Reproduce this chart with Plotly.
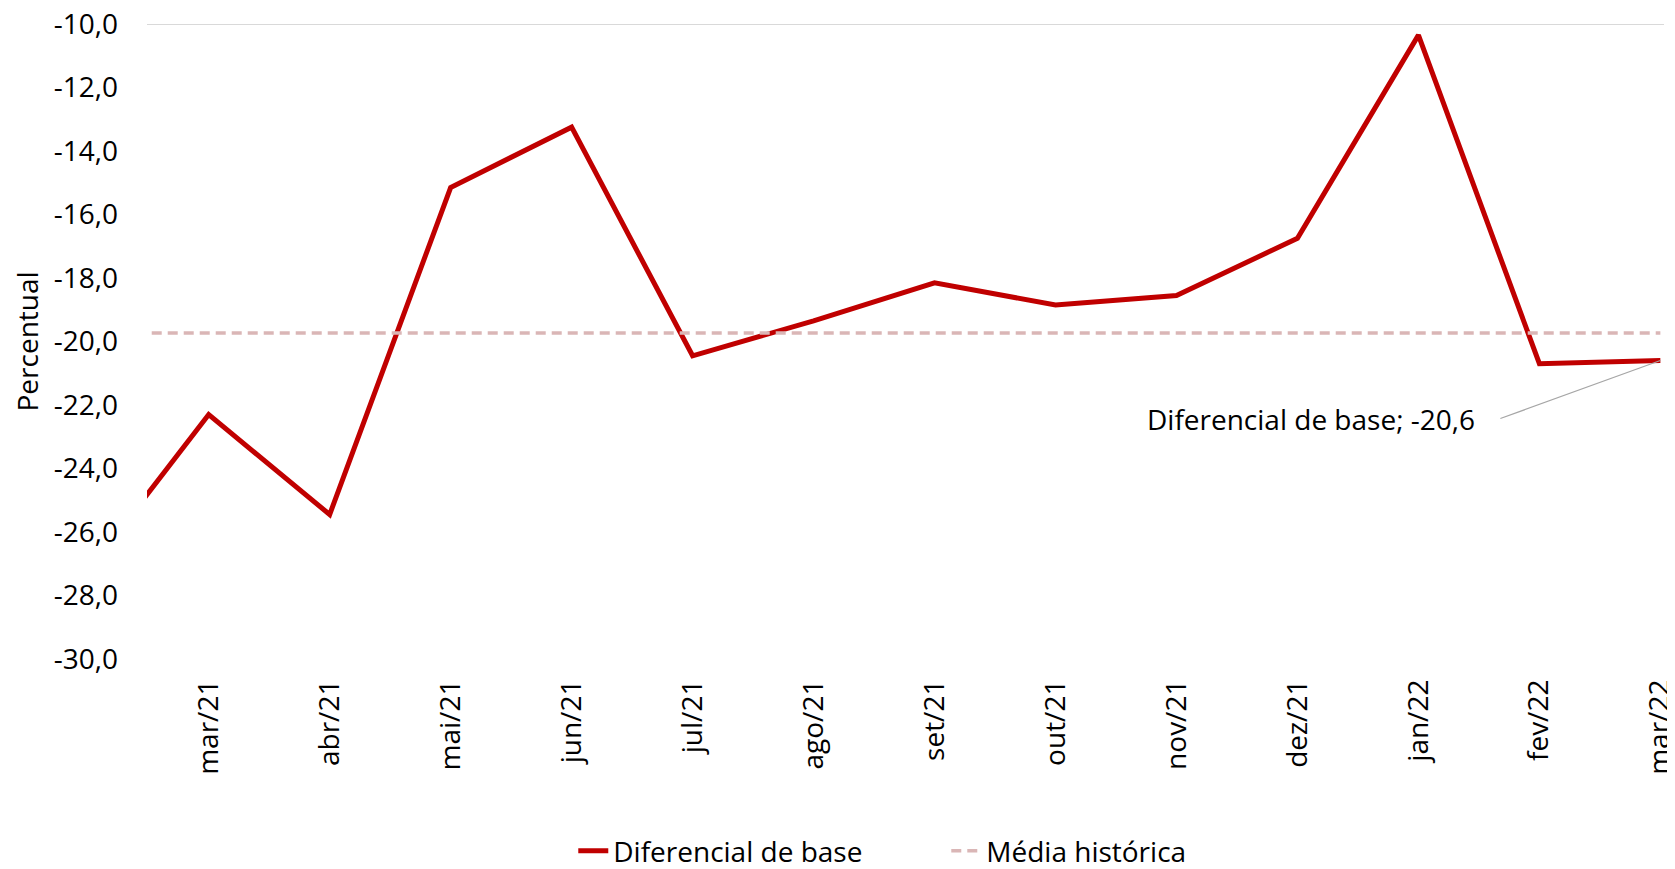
import plotly.graph_objects as go

# monthly basis differential (%), fev/21 sits just outside the visible window
meses = ["fev/21", "mar/21", "abr/21", "mai/21", "jun/21", "jul/21", "ago/21",
         "set/21", "out/21", "nov/21", "dez/21", "jan/22", "fev/22", "mar/22"]
diferencial = [-27.25, -22.3, -25.45, -15.15, -13.25, -20.45, -19.35,
               -18.15, -18.85, -18.55, -16.75, -10.35, -20.7, -20.6]
media_historica = -19.73

y_ticks = [-30, -28, -26, -24, -22, -20, -18, -16, -14, -12, -10]

FONT = "Open Sans, Lato, sans-serif"
FS = 28
RED = "#C00000"
PINK = "#DAB6B6"

x_idx = list(range(-1, len(meses) - 1))

fig = go.Figure()
fig.add_trace(go.Scatter(
    x=x_idx, y=diferencial, mode="lines", name="Diferencial de base",
    line=dict(color=RED, width=5), hoverinfo="skip",
))
fig.add_trace(go.Scatter(
    x=x_idx, y=[media_historica] * len(meses), mode="lines", name="Média histórica",
    line=dict(color=PINK, width=3.5, dash="10px,6px"), hoverinfo="skip",
))

# top border line at -10
fig.add_shape(type="line", xref="paper", x0=0, x1=1, yref="y", y0=y_ticks[-1], y1=y_ticks[-1],
              line=dict(color="#D9D9D9", width=2), layer="below")

last_label = f"{diferencial[-1]:.1f}".replace(".", ",")
fig.add_annotation(
    x=x_idx[-1], y=diferencial[-1], xref="x", yref="y",
    text=f"Diferencial de base; {last_label}",
    showarrow=True, arrowhead=0, arrowwidth=1.2, arrowcolor="#A6A6A6",
    ax=-160, ay=58, xanchor="right", yanchor="middle", borderpad=24,
    font=dict(family=FONT, size=FS, color="black"),
)

fig.add_annotation(
    text="Percentual", xref="paper", yref="paper", x=0, y=0.5, xshift=-121,
    showarrow=False, textangle=-90, xanchor="center", yanchor="middle",
    font=dict(family=FONT, size=FS, color="black"),
)

# margins compensate for the 8px default body margin of the page
fig.update_layout(
    width=1675, height=869,
    margin=dict(l=139, r=19, t=16, b=218, autoexpand=False),
    paper_bgcolor="white", plot_bgcolor="white",
    font=dict(family=FONT, size=FS, color="black"),
    showlegend=True,
    legend=dict(orientation="h", xanchor="left", x=0.281, yref="container",
                yanchor="middle", y=0.03, font=dict(size=FS), traceorder="normal",
                entrywidth=328),
    xaxis=dict(
        range=[-0.51, 12.03], tickmode="array", tickvals=x_idx[1:], ticktext=meses[1:],
        tickangle=-90, showgrid=False, zeroline=False, showline=False,
        ticks="", ticklabelstandoff=14, automargin=False, ticklabeloverflow="allow",
    ),
    yaxis=dict(
        range=[-30, -10], tickmode="array", tickvals=y_ticks,
        ticktext=[f"{v:.1f}".replace(".", ",") for v in y_ticks],
        showgrid=False, zeroline=False, showline=False, ticks="",
        ticklabelstandoff=28, automargin=False, ticklabeloverflow="allow",
    ),
)

fig.write_html("out.html")
